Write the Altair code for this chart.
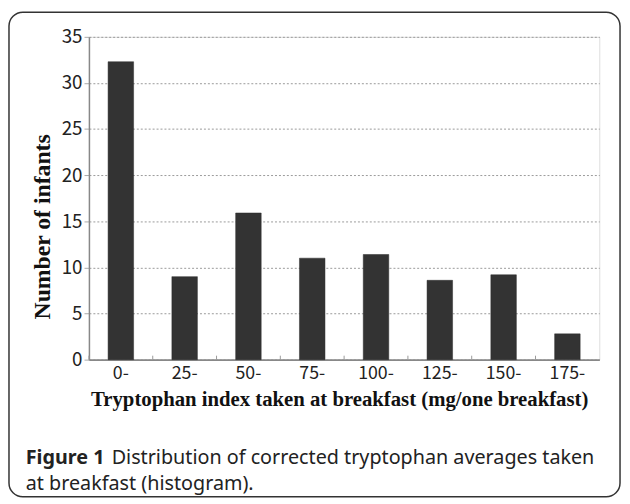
import altair as alt
import pandas as pd

categories = ["0-", "25-", "50-", "75-", "100-", "125-", "150-", "175-"]
infants = [32.3, 9.0, 15.9, 11.0, 11.4, 8.6, 9.2, 2.8]
y_ticks = [0, 5, 10, 15, 20, 25, 30, 35]
x_title = "Tryptophan index taken at breakfast (mg/one breakfast)"
y_title = "Number of infants"
caption_bold = "Figure 1"
caption_line1 = "Distribution of corrected tryptophan averages taken"
caption_line2 = "at breakfast (histogram)."

df = pd.DataFrame({"cat": categories, "n": infants})
one = pd.DataFrame({"a": [0]})

W, H = 517, 327
NARROW = "Noto Sans CJK JP, Liberation Sans Narrow, sans-serif"
SERIF = "Liberation Serif, Times New Roman, serif"
CAP = "Noto Sans, Open Sans, sans-serif"

xscale = alt.Scale(domain=categories, paddingInner=0.6, paddingOuter=0.3)

bars = alt.Chart(df).mark_bar(color="#333333", stroke="#2a2a2a", strokeWidth=0.5).encode(
    x=alt.X("cat:N", scale=xscale, sort=categories,
            axis=alt.Axis(title=x_title, labelAngle=0, ticks=False, labelPadding=5,
                          labelFont=NARROW, labelFontSize=18, labelColor="#222",
                          titleFont=SERIF, titleFontSize=21, titleFontWeight="bold",
                          titleColor="#111", titleX=W / 2 - 5, titleY=46,
                          titleBaseline="alphabetic", titleAlign="center",
                          domainColor="#888", domainWidth=2, grid=False)),
    y=alt.Y("n:Q", scale=alt.Scale(domain=[0, 35], nice=False),
            axis=alt.Axis(title=y_title, values=y_ticks, tickSize=5, tickColor="#aaa",
                          labelPadding=2, labelFont=NARROW, labelFontSize=19,
                          labelColor="#222", titleFont=SERIF, titleFontSize=24,
                          titleFontWeight="bold", titleColor="#111", titleAngle=270,
                          titleX=-47, titleY=192, titleAlign="center",
                          titleBaseline="middle", domainColor="#888", domainWidth=1.5,
                          grid=True, gridColor="#999", gridDash=[2, 2], gridWidth=1)),
)

boundary_ticks = alt.Chart(df).mark_rule(color="#999", strokeWidth=1, xOffset=-W / 16).encode(
    x=alt.X("cat:N", scale=xscale, sort=categories),
    y=alt.value(H - 4),
    y2=alt.value(H),
)

border = alt.Chart(one).mark_rect(fill=None, stroke="#333", strokeWidth=1.5,
                                  cornerRadius=14).encode(
    x=alt.value(-81), x2=alt.value(538), y=alt.value(-25), y2=alt.value(466)
)

cap1b = alt.Chart(one).mark_text(align="left", baseline="alphabetic", font=CAP,
                                 fontSize=20, fontWeight="bold", color="#222").encode(
    x=alt.value(-64), y=alt.value(433), text=alt.value(caption_bold))
cap1 = alt.Chart(one).mark_text(align="left", baseline="alphabetic", font=CAP,
                                fontSize=20, color="#222").encode(
    x=alt.value(23), y=alt.value(433), text=alt.value(caption_line1))
cap2 = alt.Chart(one).mark_text(align="left", baseline="alphabetic", font=CAP,
                                fontSize=20, color="#222").encode(
    x=alt.value(-64), y=alt.value(459), text=alt.value(caption_line2))

chart = alt.layer(bars, boundary_ticks, border, cap1b, cap1, cap2).properties(
    width=W, height=H,
    autosize=alt.AutoSizeParams(type="none"),
    padding={"left": 82, "top": 26, "right": 23, "bottom": 141},
).configure_view(stroke="#aaa", strokeWidth=1).configure(background="white")

chart.save("out.html", embed_options={"renderer": "svg", "actions": False})
